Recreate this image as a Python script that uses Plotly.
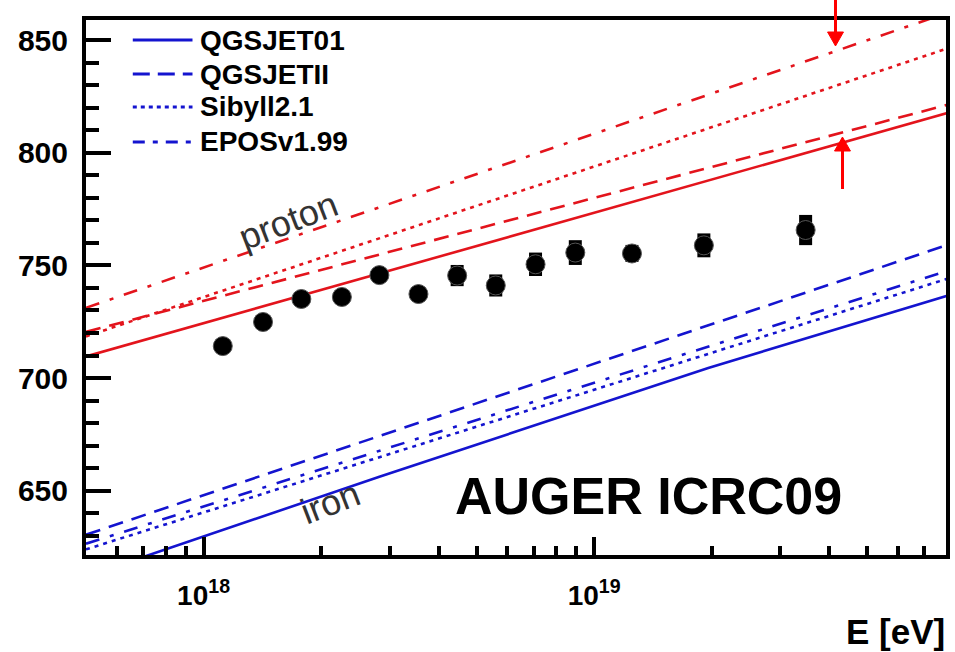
import plotly.graph_objects as go

# ---------------- data ----------------
E_data = [1.12e18, 1.42e18, 1.78e18, 2.26e18, 2.82e18, 3.55e18, 4.46e18,
          5.60e18, 7.08e18, 8.95e18, 1.25e19, 1.91e19, 3.48e19]
Xmax_data = [714.2, 724.9, 735.1, 736.0, 745.7, 737.3, 745.5,
             741.1, 750.5, 755.7, 755.3, 758.9, 765.7]
Xmax_err = [2.0, 2.2, 2.4, 2.6, 3.0, 3.2, 4.7, 4.9, 5.2, 5.5, 3.8, 5.3, 6.7]

E_model = [5.0e17, 8.0e19]
proton_qgsjet01 = [709.6, 817.6]
proton_qgsjetii = [720.5, 821.2]
proton_sibyll = [718.5, 846.2]
proton_epos = [731.2, 862.0]

E_iron_q01 = [5.0e17, 2.82e18, 1.96e19, 8.0e19]
iron_qgsjet01 = [612.0, 656.2, 704.5, 736.5]
iron_qgsjetii = [630.5, 759.0]
iron_sibyll = [624.0, 744.0]
iron_epos = [626.5, 747.5]

model_names = ["QGSJET01", "QGSJETII", "Sibyll2.1", "EPOSv1.99"]
y_tick_vals = [650, 700, 750, 800, 850]
x_tick_vals = [1e18, 1e19]
x_tick_text = ["10<sup>18</sup>", "10<sup>19</sup>"]

# ---------------- styles ----------------
RED = "#e3141c"
BLUE = "#1414cf"
DASHES = ["solid", "15px,9px", "4px,5px", "14px,11px,4px,11px"]
LEG_DASHES = ["solid", "17px,8px", "4px,4px", "12px,8px,5px,8px"]
FONT = "Liberation Sans, Arial, sans-serif"

W, H = 955, 652
L, R, T, B = 86, 5, 20, 97
PW, PH = W - L - R, H - T - B


def px(x):
    return (x - L) / PW


def py(y):
    return (H - B - y) / PH


fig = go.Figure()

proton = [proton_qgsjet01, proton_qgsjetii, proton_sibyll, proton_epos]
for vals, dash in zip(proton, DASHES):
    fig.add_trace(go.Scatter(x=E_model, y=vals, mode="lines",
                             line=dict(color=RED, width=2.6, dash=dash),
                             showlegend=False, hoverinfo="skip"))

iron = [(E_iron_q01, iron_qgsjet01), (E_model, iron_qgsjetii),
        (E_model, iron_sibyll), (E_model, iron_epos)]
for (xs, vals), dash in zip(iron, DASHES):
    fig.add_trace(go.Scatter(x=xs, y=vals, mode="lines",
                             line=dict(color=BLUE, width=2.6, dash=dash),
                             showlegend=False, hoverinfo="skip"))

fig.add_trace(go.Scatter(
    x=E_data, y=Xmax_data, mode="markers",
    marker=dict(color="black", size=19, line=dict(color="#555", width=1)),
    error_y=dict(type="data", array=Xmax_err, color="black",
                 thickness=13, width=0),
    showlegend=False))

shapes = []
annotations = []

# manual legend
leg_y = [40, 74, 107, 142]
for name, dash, yc in zip(model_names, LEG_DASHES, leg_y):
    shapes.append(dict(type="line", xref="paper", yref="paper",
                       x0=px(133), x1=px(193), y0=py(yc), y1=py(yc),
                       line=dict(color=BLUE, width=3, dash=dash)))
    annotations.append(dict(xref="paper", yref="paper", x=px(199), y=py(yc),
                            xanchor="left", yanchor="middle", showarrow=False,
                            text=name,
                            font=dict(family=FONT, size=28, color="black",
                                      weight="bold")))

# labels inside the plot
annotations.append(dict(xref="paper", yref="paper", x=px(289), y=py(220),
                        xanchor="center", yanchor="middle",
                        text="proton", showarrow=False, textangle=-21,
                        font=dict(family=FONT, size=36, color="#333")))
annotations.append(dict(xref="paper", yref="paper", x=px(331), y=py(502),
                        xanchor="center", yanchor="middle",
                        text="iron", showarrow=False, textangle=-21,
                        font=dict(family=FONT, size=36, color="#333")))
annotations.append(dict(xref="paper", yref="paper", x=px(651), y=py(496),
                        xanchor="center", yanchor="middle",
                        text="AUGER ICRC09", showarrow=False,
                        font=dict(family=FONT, size=52, color="black",
                                  weight="bold")))
annotations.append(dict(xref="paper", yref="paper", x=px(951), y=py(631),
                        xanchor="right", yanchor="middle",
                        text="E [eV]", showarrow=False,
                        font=dict(family=FONT, size=35, color="black",
                                  weight="bold")))

# red arrows (shaft + filled head)
arrow_specs = [(839, 0, 32, 46), (846, 189, 151, 137)]  # x, tail, head base, tip
for ax_, tail, base, tip in arrow_specs:
    shapes.append(dict(type="line", xref="paper", yref="paper",
                       x0=px(ax_), x1=px(ax_), y0=py(tail), y1=py(base),
                       line=dict(color="red", width=3)))
    shapes.append(dict(type="path", xref="paper", yref="paper",
                       path=(f"M{px(ax_ - 8)},{py(base)} L{px(ax_ + 8)},{py(base)} "
                             f"L{px(ax_)},{py(tip)} Z"),
                       fillcolor="red", line=dict(color="red", width=1)))

fig.update_layout(
    width=W, height=H,
    margin=dict(l=L, r=R, t=T, b=B),
    paper_bgcolor="white", plot_bgcolor="white",
    shapes=shapes, annotations=annotations,
    showlegend=False,
    font=dict(family=FONT, color="black"),
)

fig.update_xaxes(
    type="log", range=[17.699, 19.901],
    tickvals=x_tick_vals, ticktext=x_tick_text,
    ticks="inside", ticklen=18, tickwidth=4, tickcolor="black",
    minor=dict(dtick="D1", ticks="inside", ticklen=9, tickwidth=4,
               tickcolor="black", showgrid=False),
    tickfont=dict(family=FONT, size=28, color="black", weight="bold"),
    ticklabelstandoff=12,
    showline=True, linewidth=4, linecolor="black", mirror=True,
    showgrid=False, zeroline=False,
)
fig.update_yaxes(
    range=[621.5, 858.9],
    tickvals=y_tick_vals,
    ticks="inside", ticklen=25, tickwidth=4, tickcolor="black",
    minor=dict(dtick=10, ticks="inside", ticklen=13, tickwidth=4,
               tickcolor="black", showgrid=False),
    tickfont=dict(family=FONT, size=30, color="black", weight="bold"),
    ticklabelstandoff=8,
    showline=True, linewidth=4, linecolor="black", mirror=True,
    showgrid=False, zeroline=False,
)

fig.write_html("out.html")
